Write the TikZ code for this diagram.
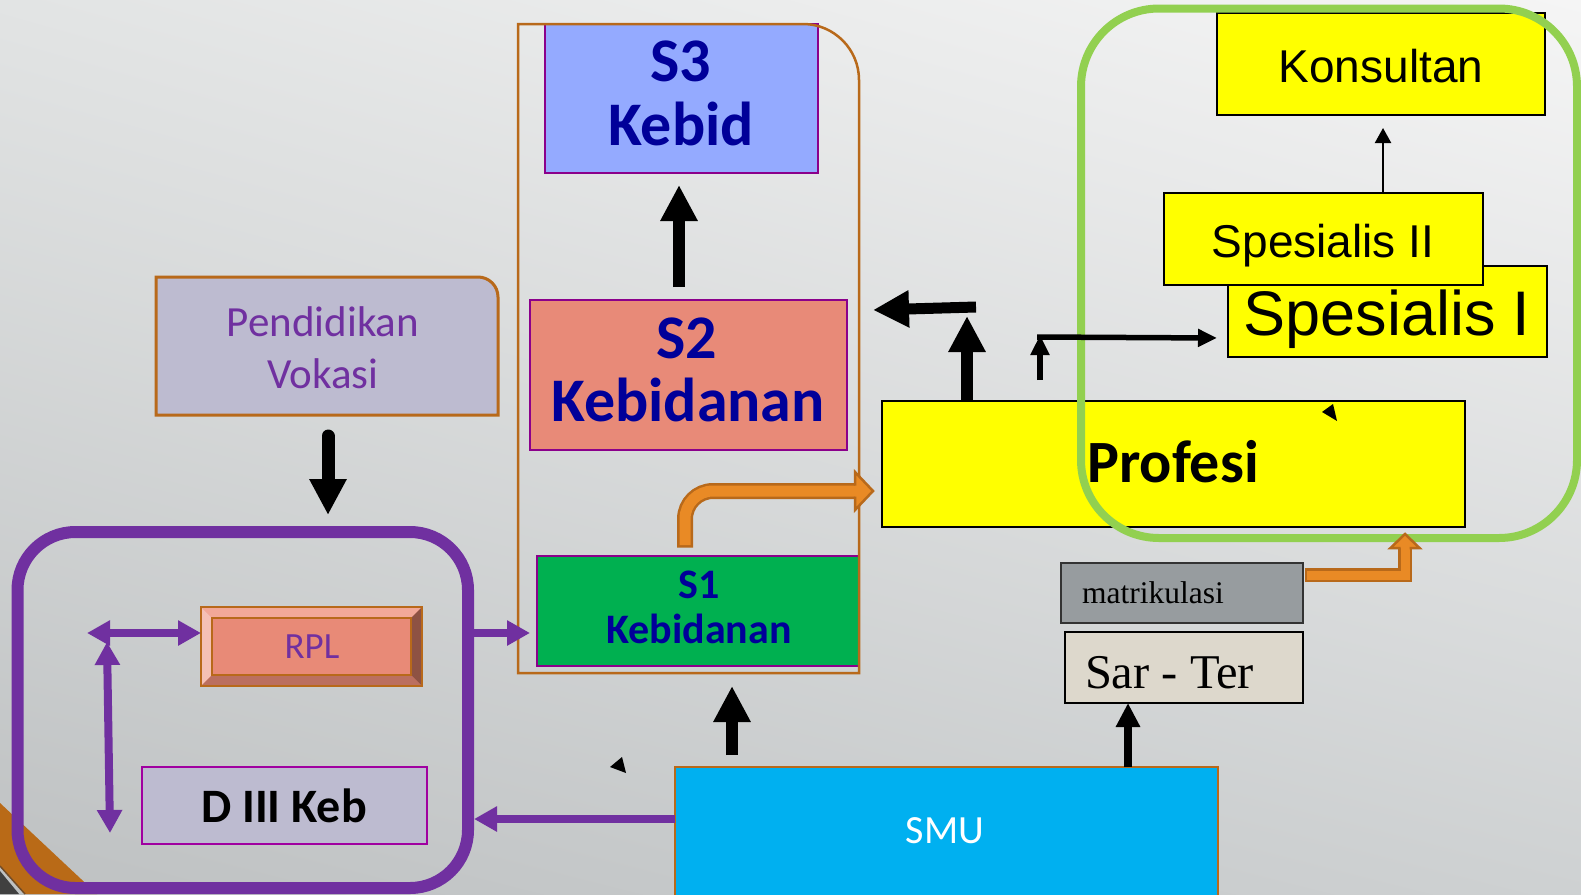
\documentclass[tikz,border=0pt]{standalone}
\usepackage{fontspec}
\setmainfont{Carlito}
\newfontfamily\arialfam{Liberation Sans}
\newfontfamily\timesfam{Liberation Serif}
\usetikzlibrary{arrows.meta,shadings}
\definecolor{bluetxt}{RGB}{0,0,153}
\definecolor{purp}{RGB}{112,48,160}
\definecolor{magb}{RGB}{139,0,139}
\definecolor{magb2}{RGB}{160,0,160}
\definecolor{orgb}{RGB}{184,105,26}
\definecolor{orgf}{RGB}{233,138,37}
\definecolor{grn}{RGB}{146,208,80}
\definecolor{s3fill}{RGB}{148,170,255}
\definecolor{s2fill}{RGB}{232,138,120}
\definecolor{s1fill}{RGB}{0,176,80}
\definecolor{yel}{RGB}{255,255,0}
\definecolor{smufill}{RGB}{0,176,240}
\definecolor{lav}{RGB}{189,187,208}
\definecolor{matfill}{RGB}{151,156,159}
\definecolor{stfill}{RGB}{221,216,204}
\definecolor{rplfill}{RGB}{232,138,119}
\definecolor{rpltop}{RGB}{242,168,152}
\definecolor{rplleft}{RGB}{245,192,181}
\definecolor{rplright}{RGB}{142,82,67}
\definecolor{rplbot}{RGB}{187,111,95}
\definecolor{bgul}{RGB}{226,228,228}
\definecolor{bgur}{RGB}{245,245,245}
\definecolor{bgll}{RGB}{190,193,194}
\definecolor{bglr}{RGB}{206,209,210}
\definecolor{band}{RGB}{185,106,23}
\newcommand\myfs[1]{\fontsize{#1}{#1}\selectfont}
\begin{document}
\begin{tikzpicture}[x=1pt,y=-1pt,
  box/.style={rectangle, draw, inner sep=0pt, outer sep=0pt},
  lbl/.style={anchor=base, inner sep=0pt, outer sep=0pt},
  frame/.style={rectangle, inner sep=0pt, outer sep=0pt},
  bigarrow/.style={line width=12pt, -{Triangle[width=35pt,length=36pt]}},
  parrow/.style={draw=purp, line width=8pt, -{Triangle[width=24pt,length=23pt]}},
  pdarrow/.style={draw=purp, line width=8pt, {Triangle[width=24pt,length=23pt]}-{Triangle[width=24pt,length=23pt]}},
  bluebig/.style={lbl, text=bluetxt, font=\bfseries\myfs{62}},
  bluesmall/.style={lbl, text=bluetxt, font=\bfseries\myfs{42}},
]
\useasboundingbox (0,0) rectangle (1581,894);
\shade[upper left=bgul, upper right=bgur, lower left=bgll, lower right=bglr] (0,0) rectangle (1581,894);

% corner band
\fill[band] (0,803) -- (97,894) -- (25,894) -- (0,866) -- cycle;
\draw[brown!60!black, line width=1.5pt] (0,866) -- (25,894);
\fill[black!75] (0,871) -- (19,894) -- (0,894) -- cycle;

% Pendidikan Vokasi
\filldraw[fill=lav, draw=orgb, line width=3pt] (156,277) -- (478,277) arc[start angle=-90, end angle=0, radius=20] -- (498,415) -- (156,415) -- cycle;
\node[frame, minimum width=342pt, minimum height=138pt] (pv) at (327,346) {};
\node[lbl, text=purp, font=\myfs{43}] (pvt1) at (323,336) {Pendidikan};
\node[lbl, text=purp, font=\myfs{43}] (pvt2) at (323,388) {Vokasi};

% S boxes
\node[box, fill=s3fill, draw=magb, line width=2pt, minimum width=273pt, minimum height=149pt] (s3) at (681.5,98.5) {};
\node[box, fill=s2fill, draw=magb, line width=2pt, minimum width=317pt, minimum height=150pt] (s2) at (688.5,375) {};
\node[box, fill=s1fill, draw=magb, line width=2pt, minimum width=322pt, minimum height=110pt] (s1) at (698,611) {};
\draw[orgb, line width=2.5pt] (518,673) -- (518,24) -- (803,24) arc[start angle=-90,end angle=0,radius=56] -- (859,673) -- cycle;
\node[bluebig] (s3t1) at (681,81) {S3};
\node[bluebig] (s3t2) at (681,145) {Kebid};
\node[bluebig] (s2t1) at (687,358) {S2};
\node[bluebig] (s2t2) at (688,421) {Kebidanan};
\node[bluesmall] (s1t1) at (699,598) {S1};
\node[bluesmall] (s1t2) at (699,643) {Kebidanan};

% right side boxes
\node[box, fill=yel, draw=black, line width=2pt, minimum width=583pt, minimum height=126pt] (pr) at (1173.5,464) {};
\node[box, fill=yel, draw=black, line width=2pt, minimum width=328pt, minimum height=102pt] (ko) at (1381,64) {};
\node[box, fill=yel, draw=black, line width=2pt, minimum width=319pt, minimum height=91pt] (sp1) at (1387.5,311.5) {};
\node[box, fill=yel, draw=black, line width=2pt, minimum width=319pt, minimum height=92pt] (sp2) at (1323.5,239) {};
\node[box, fill=matfill, draw=black!80, line width=2pt, minimum width=242pt, minimum height=60pt] (mat) at (1182,593) {};
\node[box, fill=stfill, draw=black, line width=2pt, minimum width=238pt, minimum height=71pt] (st) at (1184,667.5) {};
\node[box, fill=smufill, draw=orgb, line width=2.5pt, minimum width=543pt, minimum height=138pt] (smu) at (946.5,836) {};

% green frame
\node[frame, draw=grn, line width=8pt, rounded corners=78pt, minimum width=496pt, minimum height=529.5pt] (gf) at (1329,273.25) {};

\node[lbl, font=\bfseries\myfs{60}] (prt) at (1173,482) {Profesi};
\node[lbl, font=\arialfam\myfs{46}] (kot) at (1381,82) {Konsultan};
\node[lbl, font=\arialfam\myfs{63}] (sp1t) at (1387,335) {Spesialis I};
\node[lbl, font=\arialfam\myfs{46}] (sp2t) at (1323,257) {Spesialis II};
\node[lbl, anchor=base west, font=\timesfam\myfs{31.5}] (matt) at (1082,603) {matrikulasi};
\node[lbl, anchor=base west, font=\timesfam\myfs{48.5}] (stt) at (1085,688) {Sar - Ter};
\node[lbl, text=white, font=\myfs{40}] (smut) at (945,843) {SMU};

% purple frame and contents
\node[frame, draw=purp, line width=12pt, rounded corners=58pt, minimum width=450.5pt, minimum height=356pt] (pf) at (242.75,710) {};
\node[box, draw=orgb, line width=2.5pt, fill=rplfill, minimum width=221pt, minimum height=79pt] (rpl) at (311.5,646.5) {};
\fill[rpltop] (201,607) -- (422,607) -- (411,618) -- (212,618) -- cycle;
\fill[rplleft] (201,607) -- (212,618) -- (212,675) -- (201,686) -- cycle;
\fill[rplright] (422,607) -- (422,686) -- (411,675) -- (411,618) -- cycle;
\fill[rplbot] (201,686) -- (422,686) -- (411,675) -- (212,675) -- cycle;
\draw[orgb, line width=2.5pt] (rpl.north west) rectangle (rpl.south east);
\draw[orgb, line width=2.5pt] (212,618) rectangle (411,675);
\node[lbl, text=purp, font=\myfs{37}] (rplt) at (312,658) {RPL};
\node[box, fill=lav, draw=magb2, line width=2pt, minimum width=285pt, minimum height=77pt] (d3) at (284.5,805.5) {};
\node[lbl, font=\bfseries\myfs{48}] (d3t) at (284,822) {D III Keb};

% black arrows
\draw[bigarrow] ([xshift=-9.5pt,yshift=13pt]s2.north) -- ([xshift=-2.5pt,yshift=-12pt]s3.south);
\draw[bigarrow] ([xshift=57pt,yshift=12pt]smu.north west) -- ([xshift=34pt,yshift=-20pt]s1.south);
\draw[bigarrow, line width=13pt, line cap=round] ([xshift=1pt,yshift=-21pt]pv.south) -- ([xshift=85.25pt,yshift=17pt]pf.north);
\draw[bigarrow, line width=11.5pt] ([xshift=85pt]pr.north west) -- ([xshift=85pt,yshift=85pt]pr.north west);
\coordinate (la1) at (976,307);
\coordinate (la2) at (873,310);
\draw[bigarrow, line width=11pt] (la1) -- (la2);
\coordinate (ta1) at (1040,380);
\coordinate (ta2) at (1040,335);
\draw[line width=6pt, -{Triangle[width=18pt,length=20pt]}] (ta1) -- (ta2);
\draw[line width=5.5pt, -{Triangle[width=17pt,length=19pt]}] ([xshift=-3pt,yshift=-2pt]ta2) -- ([xshift=-11pt,yshift=-26.5pt]sp1.west);
\draw[line width=2.2pt, -{Triangle[width=16pt,length=15pt]}] ([xshift=59.5pt]sp2.north) -- ([xshift=2pt,yshift=-13pt]ko.south);
\draw[line width=8pt, -{Triangle[width=23pt,length=24pt]}] ([xshift=453pt]smu.north west) -- ([xshift=63pt]st.south west);

% purple arrows
\coordinate (pa1) at (87,633);
\draw[pdarrow] (pa1) -- ([yshift=13.5pt]rpl.west);
\coordinate (pb1) at (107,642);
\coordinate (pb2) at (110,833);
\draw[pdarrow] (pb1) -- (pb2);
\draw[parrow] ([yshift=77pt]pf.east) -- ([xshift=-7pt,yshift=-22pt]s1.west);
\draw[parrow] ([yshift=17pt]smu.west) -- ([xshift=6pt,yshift=-109pt]pf.east);

% orange bent arrows
\coordinate (o1s) at ([xshift=-13pt,yshift=11pt]s1.north);
\coordinate (o1e) at ([xshift=-27pt,yshift=-27pt]pr.west);
\draw[orgb, line width=16pt, rounded corners=28pt] ([yshift=-2.5pt]o1s) |- (o1e);
\draw[orgf, line width=11pt, rounded corners=28pt] (o1s) |- (o1e);
\filldraw[fill=orgf, draw=orgb, line width=2.5pt] ([yshift=5.5pt]o1e) -- ([yshift=19pt]o1e) -- ([xshift=18pt]o1e) -- ([yshift=-19pt]o1e) -- ([yshift=-5.5pt]o1e);
\coordinate (o2s) at ([xshift=4pt,yshift=18pt]mat.east);
\coordinate (o2e) at ([xshift=-60pt,yshift=-21pt]pr.south east);
\draw[orgb, line width=14pt] ([xshift=-2.5pt]o2s) -| (o2e);
\draw[orgf, line width=9pt] (o2s) -| (o2e);
\filldraw[fill=orgf, draw=orgb, line width=2.5pt] ([xshift=-4.5pt]o2e) -- ([xshift=-14.5pt]o2e) -- ([yshift=14pt]o2e) -- ([xshift=14.5pt]o2e) -- ([xshift=4.5pt]o2e);

% stray small triangles
\fill (1322,412) -- (1333,404) -- (1337,421) -- cycle;
\fill (610,767) -- (622,757) -- (626,773) -- cycle;
\end{tikzpicture}
\end{document}
